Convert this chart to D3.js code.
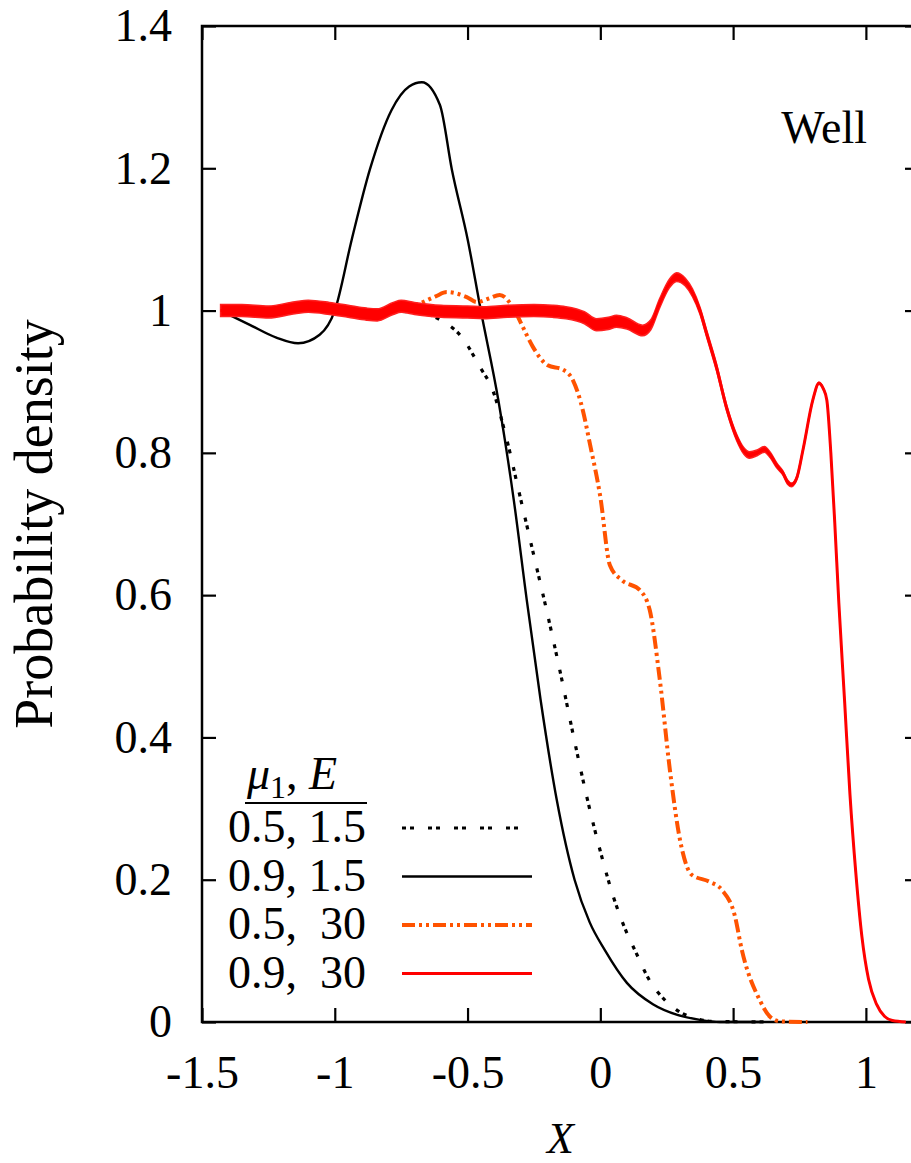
<!DOCTYPE html>
<html>
<head>
<meta charset="utf-8">
<script src="https://cdn.jsdelivr.net/npm/d3@7"></script>
</head>
<body style="margin:0">
<script>
// series: x positions and probability density
const xDotted = [-1.43, -1.2, -0.9, -0.7, -0.594, -0.518, -0.454, -0.405, -0.36, -0.3, -0.25, -0.2, -0.15, -0.1, -0.05, 0.0, 0.05, 0.1, 0.13, 0.186, 0.24, 0.287, 0.35, 0.42, 0.63];
const yDotted = [1.0, 1.0, 1.0, 0.998, 0.985, 0.961, 0.921, 0.888, 0.83, 0.735, 0.655, 0.575, 0.49, 0.4, 0.315, 0.24, 0.175, 0.125, 0.101, 0.058, 0.032, 0.017, 0.006, 0.001, 0.0];

const xSolid = [-1.43, -1.32, -1.22, -1.138, -1.057, -1.0, -0.936, -0.868, -0.786, -0.72, -0.672, -0.604, -0.559, -0.499, -0.45, -0.384, -0.326, -0.277, -0.225, -0.164, -0.097, -0.04, 0.017, 0.1, 0.198, 0.29, 0.375, 0.45, 0.6];
const ySolid = [1.0, 0.98, 0.962, 0.954, 0.966, 1.0, 1.1, 1.198, 1.282, 1.315, 1.321, 1.289, 1.198, 1.099, 1.0, 0.874, 0.734, 0.593, 0.453, 0.312, 0.2, 0.14, 0.101, 0.055, 0.025, 0.01, 0.003, 0.0, 0.0];

const xOrange = [-1.43, -1.2, -0.9, -0.75, -0.686, -0.62, -0.578, -0.503, -0.465, -0.42, -0.379, -0.33, -0.292, -0.254, -0.198, -0.141, -0.103, -0.066, -0.04, 0.0, 0.036, 0.081, 0.149, 0.186, 0.224, 0.262, 0.3, 0.344, 0.412, 0.457, 0.506, 0.533, 0.6, 0.64, 0.676, 0.78];
const yOrange = [1.0, 1.0, 1.0, 1.0, 1.009, 1.02, 1.026, 1.019, 1.012, 1.017, 1.022, 1.005, 0.977, 0.949, 0.923, 0.917, 0.902, 0.86, 0.814, 0.738, 0.642, 0.621, 0.607, 0.579, 0.481, 0.354, 0.256, 0.207, 0.197, 0.186, 0.15, 0.101, 0.031, 0.007, 0.001, 0.0];

const xRed = [-1.43, -1.35, -1.25, -1.15, -1.1, -1.02, -0.95, -0.88, -0.84, -0.78, -0.75, -0.7, -0.6, -0.5, -0.44, -0.35, -0.25, -0.18, -0.13, -0.06, -0.014, 0.03, 0.061, 0.1, 0.159, 0.19, 0.223, 0.26, 0.287, 0.32, 0.347, 0.375, 0.4, 0.437, 0.475, 0.513, 0.54, 0.562, 0.59, 0.618, 0.64, 0.665, 0.687, 0.705, 0.72, 0.74, 0.763, 0.8, 0.823, 0.84, 0.853, 0.868, 0.883, 0.898, 0.92, 0.94, 0.962, 0.985, 1.01, 1.04, 1.07, 1.1, 1.15];
const yRed = [1.0, 1.0, 0.998, 1.004, 1.006, 1.003, 0.999, 0.995, 0.994, 1.003, 1.006, 1.003, 0.999, 0.998, 0.997, 0.999, 1.0, 0.999, 0.997, 0.99, 0.98, 0.982, 0.985, 0.982, 0.972, 0.98, 1.01, 1.038, 1.047, 1.04, 1.025, 1.0, 0.968, 0.921, 0.864, 0.822, 0.803, 0.797, 0.8, 0.805, 0.797, 0.782, 0.772, 0.759, 0.755, 0.765, 0.804, 0.874, 0.898, 0.89, 0.874, 0.8, 0.7, 0.59, 0.45, 0.32, 0.21, 0.12, 0.06, 0.025, 0.008, 0.002, 0.0];
// half-height of the fast jitter on the red curve, same x points
const redJitter = [0.0085, 0.0085, 0.0085, 0.0085, 0.0085, 0.0085, 0.0085, 0.0085, 0.0085, 0.0085, 0.0085, 0.0085, 0.0085, 0.0085, 0.0085, 0.0085, 0.0085, 0.0085, 0.0085, 0.0085, 0.0085, 0.0085, 0.0085, 0.008, 0.0075, 0.007, 0.0065, 0.006, 0.006, 0.0055, 0.0055, 0.005, 0.005, 0.005, 0.0045, 0.0045, 0.0045, 0.0045, 0.004, 0.004, 0.004, 0.0035, 0.003, 0.003, 0.0025, 0.0025, 0.002, 0.0015, 0.0015, 0.001, 0.0, 0, 0, 0, 0, 0, 0, 0, 0, 0, 0, 0, 0];

const xTicks = [-1.5, -1, -0.5, 0, 0.5, 1];
const yTicks = [0, 0.2, 0.4, 0.6, 0.8, 1, 1.2, 1.4];
const legendLabels = ["0.5, 1.5", "0.9, 1.5", "0.5,  30", "0.9,  30"];

const width = 911, height = 1163;
const plotLeft = 202, plotRight = 919, plotTop = 26, plotBottom = 1022;
const fontName = '"Liberation Serif"';

const svg = d3.select("body").append("svg")
    .attr("width", width)
    .attr("height", height);

const x = d3.scaleLinear().domain([-1.5, 1.2]).range([plotLeft, plotRight]);
const y = d3.scaleLinear().domain([0, 1.4]).range([plotBottom, plotTop]);

const fmt = d => String(d);

// axes, ticks pointing inward on all four sides
const axes = [
  svg.append("g").attr("transform", `translate(${plotLeft},0)`)
    .call(d3.axisLeft(y).tickValues(yTicks).tickSizeInner(-14).tickSizeOuter(0).tickPadding(30).tickFormat(fmt)),
  svg.append("g").attr("transform", `translate(${plotRight},0)`)
    .call(d3.axisRight(y).tickValues(yTicks).tickSizeInner(-14).tickSizeOuter(0).tickFormat("")),
  svg.append("g").attr("transform", `translate(0,${plotBottom})`)
    .call(d3.axisBottom(x).tickValues(xTicks).tickSizeInner(-14).tickSizeOuter(0).tickPadding(33).tickFormat(fmt)),
  svg.append("g").attr("transform", `translate(0,${plotTop})`)
    .call(d3.axisTop(x).tickValues(xTicks).tickSizeInner(-14).tickSizeOuter(0).tickFormat(""))
];
axes.forEach(g => g.attr("font-family", null).attr("font-size", null));

svg.selectAll(".domain").remove();
svg.selectAll(".tick line").attr("stroke", "#000").attr("stroke-width", 2.2);
svg.selectAll(".tick text")
    .attr("fill", "#000")
    .style("font-family", fontName)
    .style("font-size", "46px");

svg.append("rect")
    .attr("x", plotLeft).attr("y", plotTop)
    .attr("width", plotRight - plotLeft).attr("height", plotBottom - plotTop)
    .attr("fill", "none").attr("stroke", "#000").attr("stroke-width", 2.5);

const line = d3.line().x(d => x(d[0])).y(d => y(d[1])).curve(d3.curveMonotoneX);
const zip = (xs, ys) => xs.map((v, i) => [v, ys[i]]);

const series = [
  { xs: xDotted, ys: yDotted, color: "#000", w: 3.2, dash: "4,4,4,14" },
  { xs: xSolid, ys: ySolid, color: "#000", w: 2.4, dash: null },
  { xs: xOrange, ys: yOrange, color: "#ff5300", w: 4, dash: "13,4,3,4,3,4" },
  { xs: xRed, ys: yRed, color: "#ff0000", w: 3, dash: null }
];

const plot = svg.append("g");

series.forEach((s, i) => {
  if (i === 3) {
    // jitter envelope of the red curve
    const band = d3.area()
        .x(d => x(d[0]))
        .y0(d => y(d[1] - d[2]))
        .y1(d => y(d[1] + d[2]))
        .curve(d3.curveMonotoneX);
    plot.append("path")
        .datum(xRed.map((v, k) => [v, yRed[k], redJitter[k]]))
        .attr("d", band)
        .attr("fill", "#ff0000")
        .attr("stroke", "#ff2020")
        .attr("stroke-width", 1.5);
  }
  plot.append("path")
      .datum(zip(s.xs, s.ys))
      .attr("d", line)
      .attr("fill", "none")
      .attr("stroke", s.color)
      .attr("stroke-width", s.w)
      .attr("stroke-dasharray", s.dash)
      .attr("stroke-linejoin", "round");
});

// legend
const legend = svg.append("g");
const head = legend.append("text").attr("x", 247).attr("y", 789)
    .style("font-family", fontName).style("font-size", "46px");
head.append("tspan").style("font-style", "italic").text("\u03bc");
head.append("tspan").attr("baseline-shift", "-28%").style("font-size", "32px").text("1");
head.append("tspan").text(", ");
head.append("tspan").style("font-style", "italic").text("E");
legend.append("line")
    .attr("x1", 245).attr("x2", 367).attr("y1", 803).attr("y2", 803)
    .attr("stroke", "#000").attr("stroke-width", 2);

legendLabels.forEach((lab, i) => {
  const by = 842 + i * 48.5;
  legend.append("text")
      .attr("x", 228).attr("y", by)
      .style("font-family", fontName)
      .style("font-size", "46px")
      .style("white-space", "pre")
      .text(lab);
  legend.append("line")
      .attr("x1", 402).attr("x2", 532)
      .attr("y1", by - 14).attr("y2", by - 14)
      .attr("stroke", series[i].color)
      .attr("stroke-width", series[i].w)
      .attr("stroke-dasharray", series[i].dash);
});

svg.append("text")
    .attr("x", 867).attr("y", 143)
    .attr("text-anchor", "end")
    .style("font-family", fontName)
    .style("font-size", "46px")
    .text("Well");

svg.append("text")
    .attr("x", (plotLeft + plotRight) / 2).attr("y", 1153)
    .attr("text-anchor", "middle")
    .style("font-family", fontName)
    .style("font-size", "44px").style("font-style", "italic")
    .text("X");

svg.append("text")
    .attr("transform", `translate(52,${(plotTop + plotBottom) / 2}) rotate(-90)`)
    .attr("text-anchor", "middle")
    .style("font-family", fontName)
    .style("font-size", "54px")
    .text("Probability density");
</script>
</body>
</html>
